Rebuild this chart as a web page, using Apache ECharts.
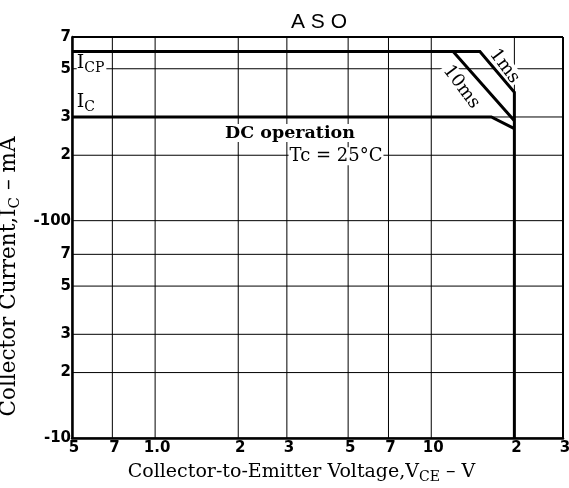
<!DOCTYPE html>
<html lang="en">
<head>
<meta charset="UTF-8">
<title>ASO</title>
<script src="https://cdn.jsdelivr.net/npm/echarts@6/dist/echarts.min.js"></script>
<style>
    html, body { margin: 0; padding: 0; background: #fff; }
    #main { width: 569px; height: 488px; }
</style>
</head>
<body>
<div id="main"></div>
<script>
// grid values and the labels printed at them
var xTicks = [0.5, 0.7, 1, 2, 3, 5, 7, 10, 20, 30];
var xTickLabels = ['5', '7', '1.0', '2', '3', '5', '7', '10', '2', '3'];
var yTicks = [10, 20, 30, 50, 70, 100, 200, 300, 500, 700];
var yTickLabels = ['-10', '2', '3', '5', '7', '-100', '2', '3', '5', '7'];

// ASO boundaries, VCE in V / IC in mA
var vce1ms = [0.5, 15, 20, 20];
var ic1ms = [600, 600, 390, 10];
var vce10ms = [0.5, 12, 20];
var ic10ms = [600, 600, 288];
var vceDC = [0.5, 16.5, 20];
var icDC = [300, 300, 265];

function pairs(xs, ys) {
    return xs.map(function (x, i) { return [x, ys[i]]; });
}
function tickText(ticks, labels, v) {
    var best = 0;
    for (var i = 0; i < ticks.length; i++) {
        if (Math.abs(Math.log(ticks[i]) - Math.log(v)) < Math.abs(Math.log(ticks[best]) - Math.log(v))) best = i;
    }
    return labels[best];
}

var xMin = xTicks[0], xMax = xTicks[xTicks.length - 1];
var yMin = yTicks[0], yMax = yTicks[yTicks.length - 1];

var chart = echarts.init(document.getElementById('main'));
var serif = 'DejaVu Serif';
function richText(size, subSize) {
    return {
        n: { fontFamily: serif, fontSize: size, color: '#000' },
        s: { fontFamily: serif, fontSize: subSize, color: '#000', verticalAlign: 'bottom', padding: [Math.round(size * 0.5), 0, 0, 0] }
    };
}

var series = [];
// grid lines
xTicks.forEach(function (x, i) {
    series.push({
        type: 'line', silent: true, symbol: 'none', z: 1,
        lineStyle: { color: '#000', width: (i === xTicks.length - 1) ? 2 : 1 },
        data: [[x, yMin], [x, yMax]]
    });
});
yTicks.forEach(function (y, i) {
    series.push({
        type: 'line', silent: true, symbol: 'none', z: 1,
        lineStyle: { color: '#000', width: (i === yTicks.length - 1) ? 2 : 1 },
        data: [[xMin, y], [xMax, y]]
    });
});

// annotations
series.push({
    type: 'scatter', symbolSize: 0, silent: true, z: 5,
    itemStyle: { opacity: 1 },
    label: { show: true, color: '#000', backgroundColor: '#fff' },
    data: [
        { value: [0.52, 530], label: { position: 'right', distance: 0, padding: [0, 2, 0, 0], formatter: '{n|I}{s|CP}', rich: richText(19, 14) } },
        { value: [0.52, 350], label: { position: 'right', distance: 0, backgroundColor: 'transparent', formatter: '{n|I}{s|C}', rich: richText(19, 14) } },
        { value: [3.08, 253], label: { position: 'inside', formatter: 'DC operation', fontFamily: serif, fontWeight: 'bold', fontSize: 17.5 } },
        { value: [4.52, 198], label: { position: 'inside', formatter: 'Tc = 25°C', fontFamily: serif, fontSize: 18, padding: [0, 1] } },
        { value: [12.85, 412], label: { position: 'inside', formatter: '10ms', rotate: -53, fontFamily: serif, fontSize: 18, padding: [0, 2] } },
        { value: [18.4, 514], label: { position: 'inside', formatter: '1ms', rotate: -53, fontFamily: serif, fontSize: 18, padding: [0, 2] } }
    ]
});

// boundaries
[[vce1ms, ic1ms], [vce10ms, ic10ms], [vceDC, icDC]].forEach(function (s) {
    series.push({
        type: 'line', silent: true, symbol: 'none', z: 10,
        lineStyle: { color: '#000', width: 3, join: 'miter' },
        data: pairs(s[0], s[1])
    });
});

var option = {
    animation: false,
    backgroundColor: '#fff',
    title: {
        text: 'A S O',
        left: 314, top: 7, textAlign: 'center',
        textStyle: { fontFamily: 'Liberation Sans', fontSize: 21, fontWeight: 'normal', color: '#000' }
    },
    grid: { left: 72, right: 6, top: 37, bottom: 50, containLabel: false, outerBoundsMode: 'none' },
    xAxis: {
        type: 'log', min: xMin, max: xMax,
        name: '{n|Collector-to-Emitter Voltage,V}{s|CE}{n| – V}',
        nameLocation: 'middle', nameGap: 22,
        nameTextStyle: { padding: [0, 32, 0, 0], rich: richText(19, 14) },
        axisLine: { lineStyle: { color: '#000', width: 2.5 } },
        axisTick: { show: false },
        splitLine: { show: false },
        axisLabel: {
            customValues: xTicks, margin: 3, padding: [0, 0, 0, 4],
            fontFamily: 'DejaVu Sans', fontWeight: 'bold', fontSize: 15, color: '#000',
            formatter: function (v) { return tickText(xTicks, xTickLabels, v); }
        }
    },
    yAxis: {
        type: 'log', min: yMin, max: yMax,
        name: '{n|Collector Current,I}{s|C}{n| – mA}',
        nameLocation: 'middle', nameGap: 44,
        nameTextStyle: { padding: [0, 78, 0, 0], rich: richText(21.5, 15) },
        axisLine: { lineStyle: { color: '#000', width: 2.5 } },
        axisTick: { show: false },
        splitLine: { show: false },
        axisLabel: {
            customValues: yTicks, margin: 1,
            fontFamily: 'DejaVu Sans', fontWeight: 'bold', fontSize: 15, color: '#000',
            formatter: function (v) { return tickText(yTicks, yTickLabels, v); }
        }
    },
    series: series
};
chart.setOption(option);
</script>
</body>
</html>
